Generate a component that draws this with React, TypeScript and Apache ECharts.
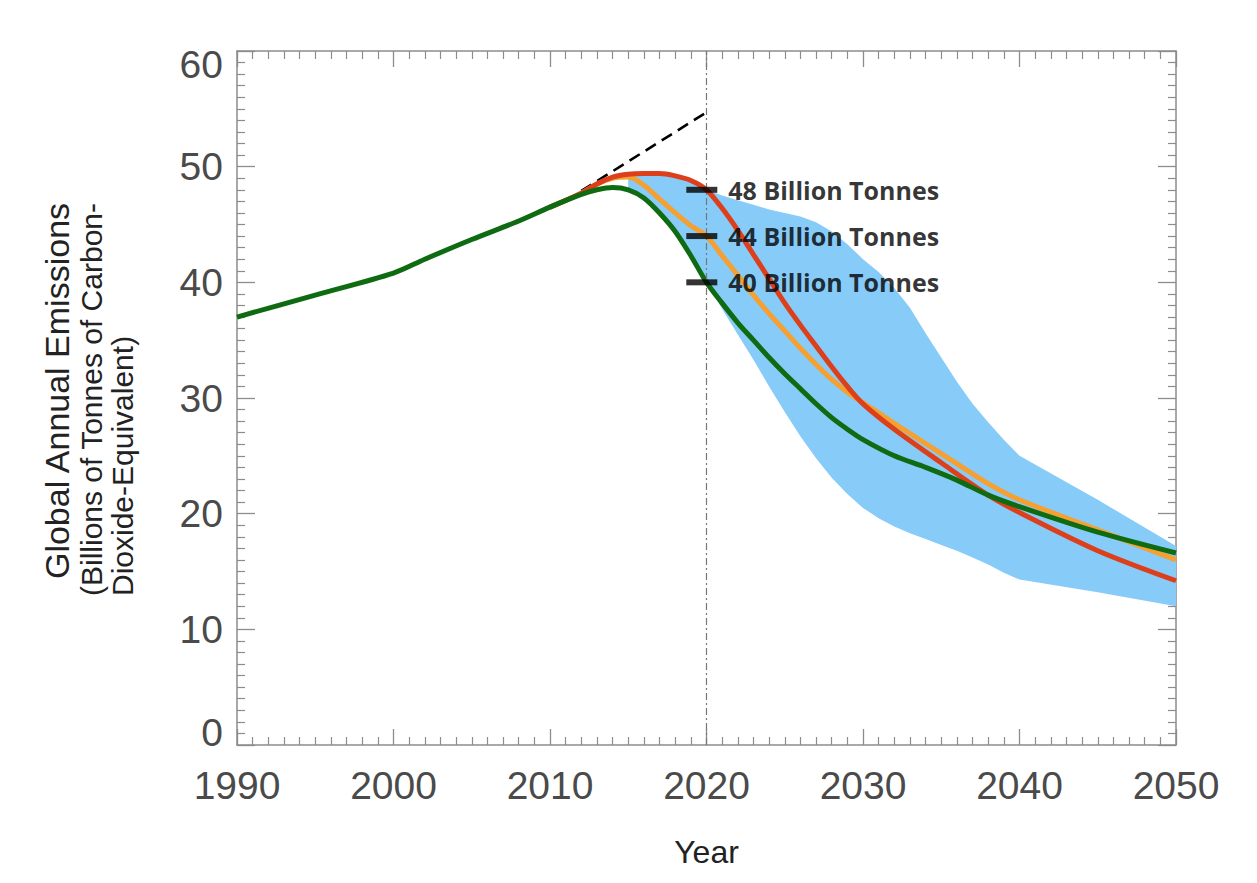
import React, { useEffect, useRef } from "react";
import * as echarts from "echarts";

// Shared historical record (all pathways follow it up to ~2012)
const historyYears = [1990, 1995, 2000, 2002, 2005, 2008, 2010];
const historyValues = [37.0, 38.9, 40.8, 42.0, 43.7, 45.3, 46.5];

// Pathway 1 (green): lowest 2020 level
const greenYears = [2012, 2013, 2014, 2015, 2016, 2017, 2018, 2019, 2020, 2021, 2022, 2023, 2024, 2025, 2026, 2027, 2028, 2029, 2030, 2032, 2034, 2036, 2038, 2040, 2045, 2050];
const greenValues = [47.6, 48.0, 48.2, 48.0, 47.3, 46.0, 44.4, 42.3, 40.0, 38.2, 36.5, 35.0, 33.5, 32.1, 30.8, 29.5, 28.3, 27.3, 26.4, 25.0, 24.0, 22.9, 21.6, 20.6, 18.4, 16.6];

// Pathway 2 (orange)
const orangeYears = [2010, 2012, 2013, 2014, 2015, 2016, 2017, 2018, 2019, 2020, 2021, 2022, 2023, 2024, 2025, 2026, 2027, 2028, 2029, 2030, 2032, 2035, 2038, 2040, 2045, 2050];
const orangeValues = [46.5, 47.7, 48.5, 49.0, 49.1, 48.4, 47.2, 46.0, 44.9, 44.0, 42.3, 40.6, 38.9, 37.3, 35.8, 34.3, 32.9, 31.6, 30.5, 29.6, 27.8, 25.2, 22.6, 21.2, 18.6, 16.0];

// Pathway 3 (red): highest 2020 level
const redYears = [2010, 2012, 2013, 2014, 2015, 2016, 2017, 2018, 2019, 2020, 2021, 2022, 2023, 2024, 2025, 2026, 2027, 2028, 2029, 2030, 2032, 2035, 2038, 2040, 2045, 2050];
const redValues = [46.5, 47.7, 48.5, 49.1, 49.35, 49.4, 49.4, 49.2, 48.8, 48.0, 46.4, 44.5, 42.4, 40.3, 38.2, 36.3, 34.5, 32.7, 31.0, 29.5, 27.3, 24.4, 21.6, 20.1, 16.8, 14.2];

// Range of pathways (shaded band)
const bandYears = [2015, 2016, 2017, 2018, 2019, 2020, 2021, 2022, 2023, 2024, 2025, 2026, 2027, 2028, 2029, 2030, 2031, 2032, 2033, 2034, 2035, 2036, 2037, 2038, 2039, 2040, 2045, 2050];
const bandLower = [48.0, 47.3, 46.0, 44.4, 42.3, 40.0, 37.7, 35.5, 33.3, 31.0, 28.8, 26.7, 24.8, 23.1, 21.7, 20.5, 19.6, 18.9, 18.3, 17.8, 17.3, 16.8, 16.2, 15.6, 14.9, 14.3, 13.2, 12.0];
const bandUpper = [49.35, 49.4, 49.4, 49.2, 48.8, 48.0, 47.5, 47.1, 46.7, 46.3, 46.0, 45.7, 45.2, 44.4, 43.3, 42.0, 40.9, 39.5, 37.8, 35.6, 33.5, 31.4, 29.5, 27.9, 26.4, 25.0, 21.2, 17.2];

// Business-as-usual extrapolation (dashed)
const trendYears = [2012, 2020];
const trendValues = [47.9, 54.7];

// 2020 levels marked beside the 2020 line
const markerYear = 2019.7;
const markerLevels = [48, 44, 40];

// Axis ticks
const xTicks = [1990, 2000, 2010, 2020, 2030, 2040, 2050];
const yTicks = [0, 10, 20, 30, 40, 50, 60];

const pairs = (xs: number[], ys: number[]) => xs.map((x, i) => [x, ys[i]]);

const AXIS_COLOR = "#8c8c8c";
const LABEL_FONT = "'Liberation Sans', Arial, sans-serif";

export default function App() {
  const ref = useRef<HTMLDivElement>(null);

  useEffect(() => {
    if (!ref.current) return;
    const chart = echarts.init(ref.current, undefined, { renderer: "svg" });

    const xMin = xTicks[0];
    const xMax = xTicks[xTicks.length - 1];
    const yMin = yTicks[0];
    const yMax = yTicks[yTicks.length - 1];

    const baseAxisX = {
      type: "value" as const,
      min: xMin,
      max: xMax,
      interval: 10,
      axisLine: { show: true, onZero: false, lineStyle: { color: AXIS_COLOR, width: 1.5 } },
      axisTick: { show: true, inside: true, length: 16, lineStyle: { color: AXIS_COLOR, width: 1.3 } },
      minorTick: { show: true, splitNumber: 10, length: 8, lineStyle: { color: AXIS_COLOR, width: 1.2 } },
      splitLine: { show: false },
    };
    const baseAxisY = {
      type: "value" as const,
      min: yMin,
      max: yMax,
      interval: 10,
      axisLine: { show: true, onZero: false, lineStyle: { color: AXIS_COLOR, width: 1.5 } },
      axisTick: { show: true, inside: true, length: 18, lineStyle: { color: AXIS_COLOR, width: 1.3 } },
      minorTick: { show: true, splitNumber: 10, length: 8, lineStyle: { color: AXIS_COLOR, width: 1.2 } },
      splitLine: { show: false },
    };

    const history = pairs(historyYears, historyValues);

    chart.setOption({
      animation: false,
      backgroundColor: "#ffffff",
      grid: { left: 237, top: 51, right: 81, bottom: 138, containLabel: false },
      xAxis: [
        {
          ...baseAxisX,
          position: "bottom",
          name: "Year",
          nameLocation: "middle",
          nameGap: 91,
          nameTextStyle: { fontSize: 32, color: "#222", fontFamily: LABEL_FONT },
          axisLabel: {
            show: true,
            margin: 21,
            fontSize: 39,
            color: "#4a4a4a",
            fontFamily: LABEL_FONT,
            formatter: (v: number) => (xTicks.includes(v) ? String(v) : ""),
          },
        },
        { ...baseAxisX, position: "top", axisLabel: { show: false } },
      ],
      yAxis: [
        {
          ...baseAxisY,
          position: "left",
          axisLabel: {
            show: true,
            margin: 14,
            fontSize: 39,
            lineHeight: 26,
            color: "#4a4a4a",
            fontFamily: LABEL_FONT,
            verticalAlignMinLabel: "bottom",
            verticalAlignMaxLabel: "top",
            formatter: (v: number) => (yTicks.includes(v) ? String(v) : ""),
          },
        },
        { ...baseAxisY, position: "right", axisLabel: { show: false } },
      ],
      series: [
        {
          name: "band",
          type: "custom",
          silent: true,
          data: bandYears.map((y, i) => [y, bandLower[i], bandUpper[i]]),
          encode: { x: 0, y: [1, 2] },
          renderItem: (params: any, api: any) => {
            if (params.dataIndex !== 0) return null;
            const top = bandYears.map((y, i) => api.coord([y, bandUpper[i]]));
            const bottom = bandYears.map((y, i) => api.coord([y, bandLower[i]])).reverse();
            return {
              type: "polygon",
              shape: { points: [...top, ...bottom] },
              style: { fill: "#87CBF8" },
            };
          },
          z: 1,
        },
        {
          name: "trend",
          type: "line",
          data: pairs(trendYears, trendValues),
          symbol: "none",
          lineStyle: { color: "#000", width: 2.6, type: [12, 7] },
          markLine: {
            silent: true,
            symbol: ["none", "none"],
            label: { show: false },
            lineStyle: { color: "#777", width: 1.2, type: [7, 3, 2, 3] },
            data: [{ xAxis: 2020 }],
          },
        },
        {
          name: "orange",
          type: "line",
          data: pairs(orangeYears, orangeValues),
          smooth: 0.3,
          symbol: "none",
          lineStyle: { color: "#F5A030", width: 5 },
        },
        {
          name: "red",
          type: "line",
          data: pairs(redYears, redValues),
          smooth: 0.3,
          symbol: "none",
          lineStyle: { color: "#DC3F1A", width: 5 },
        },
        {
          name: "green",
          type: "line",
          data: [...history, ...pairs(greenYears, greenValues)],
          smooth: 0.3,
          symbol: "none",
          lineStyle: { color: "#0F6B12", width: 5 },
        },
        {
          name: "levels",
          type: "scatter",
          data: markerLevels.map((v) => [markerYear, v]),
          symbol: "rect",
          symbolSize: [31, 6],
          itemStyle: { color: "#000" },
          z: 5,
          label: {
            show: true,
            position: "right",
            distance: 11,
            fontSize: 25,
            fontWeight: "bold",
            color: "#000",
            fontFamily: "'Open Sans', sans-serif",
            formatter: (p: any) => `${p.value[1]} Billion Tonnes`,
          },
        },
      ],
      graphic: [
        {
          type: "text",
          x: 57,
          y: 391,
          rotation: Math.PI / 2,
          style: {
            text: "Global Annual Emissions",
            fontSize: 34,
            fill: "#222",
            fontFamily: LABEL_FONT,
            align: "center",
            verticalAlign: "middle",
          },
        },
        {
          type: "text",
          x: 91,
          y: 596,
          rotation: Math.PI / 2,
          style: {
            text: "(Billions of Tonnes of Carbon-",
            fontSize: 30,
            fill: "#222",
            fontFamily: LABEL_FONT,
            align: "left",
            verticalAlign: "middle",
          },
        },
        {
          type: "text",
          x: 122,
          y: 596,
          rotation: Math.PI / 2,
          style: {
            text: "Dioxide-Equivalent)",
            fontSize: 30,
            fill: "#222",
            fontFamily: LABEL_FONT,
            align: "left",
            verticalAlign: "middle",
          },
        },
      ],
    });

    return () => chart.dispose();
  }, []);

  return (
    <div
      ref={ref}
      style={{ position: "fixed", left: 0, top: 0, width: 1257, height: 883, background: "#fff" }}
    />
  );
}
